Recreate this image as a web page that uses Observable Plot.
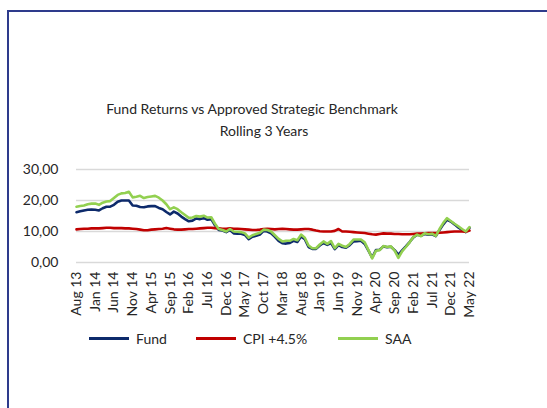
<!DOCTYPE html>
<html>
<head>
<meta charset="utf-8">
<script src="https://cdn.jsdelivr.net/npm/d3@7"></script>
<script src="https://cdn.jsdelivr.net/npm/@observablehq/plot@0.6"></script>
<style>
  html, body { margin: 0; padding: 0; background: #fff; overflow: hidden; }
  #wrap { position: relative; width: 547px; height: 408px; overflow: hidden; font-family: Lato, "Open Sans", sans-serif; color: #404040; }
  #frame { position: absolute; left: 7px; top: 10px; width: 700px; height: 600px; border: 2px solid #2e3b8c; box-sizing: border-box; }
  .t { position: absolute; font-size: 14px; white-space: nowrap; transform: translateX(-50%); color: #262626; }
  #chart { position: absolute; left: 0; top: 0; }
  .leg { position: absolute; top: 330px; font-size: 14px; color: #262626; display: flex; align-items: center; }
  .leg span.sw { display: inline-block; width: 40px; height: 3px; margin-right: 7px; }
</style>
</head>
<body>
<div id="wrap">
  <div id="frame"></div>
  <div id="chart"></div>
  <div class="t" style="left:252px; top:100px;">Fund Returns vs Approved Strategic Benchmark</div>
  <div class="t" style="left:264px; top:122px;">Rolling 3 Years</div>
  <div id="legend"></div>
</div>
<script>
// Tick labels every 5 months, Aug 13 .. May 22 (106 monthly points)
const tickLabels = ["Aug 13","Jan 14","Jun 14","Nov 14","Apr 15","Sep 15","Feb 16","Jul 16","Dec 16","May 17","Oct 17","Mar 18","Aug 18","Jan 19","Jun 19","Nov 19","Apr 20","Sep 20","Feb 21","Jul 21","Dec 21","May 22"];
const seriesNames = ["Fund", "CPI +4.5%", "SAA"];
const seriesColors = ["#0d2a6b", "#c00000", "#92d050"];

const fund = [16.2,16.5,16.8,17.0,17.1,17.0,16.8,17.5,18.0,18.0,
  18.6,19.6,20.0,20.0,20.0,18.4,18.3,17.9,17.8,18.1,
  18.2,18.2,17.6,17.2,16.3,15.5,16.4,15.8,14.8,14.0,
  13.3,13.5,14.2,14.0,14.3,13.8,14.0,12.0,10.5,10.3,
  9.8,10.5,9.4,9.3,9.3,8.9,7.5,8.3,8.6,9.0,
  10.2,10.0,9.4,8.3,7.0,6.2,6.1,6.3,7.0,6.6,
  8.4,7.5,5.0,4.4,4.4,5.5,6.3,5.7,6.3,4.3,
  5.6,5.0,4.8,5.6,6.8,6.9,7.0,6.0,3.8,1.6,
  4.0,4.1,5.2,4.9,5.1,4.0,2.5,3.9,5.2,6.6,
  8.1,9.0,8.6,9.2,9.0,9.1,8.5,10.5,12.3,13.8,
  13.2,12.3,11.3,10.5,9.8,11.2];
const cpi = [10.7,10.8,10.9,10.9,11.0,11.0,11.0,11.1,11.2,11.2,
  11.1,11.1,11.1,11.0,11.0,10.9,10.8,10.6,10.4,10.4,
  10.6,10.7,10.8,10.9,11.1,10.9,10.7,10.6,10.6,10.7,
  10.8,10.8,10.9,11.0,11.1,11.2,11.2,11.1,11.0,10.9,
  10.9,11.0,10.9,10.9,10.8,10.7,10.6,10.5,10.5,10.6,
  10.8,10.9,10.8,10.7,10.8,10.9,10.8,10.7,10.6,10.6,
  10.7,10.8,10.8,10.6,10.3,10.1,10.0,10.0,10.0,10.2,
  10.8,10.0,10.0,9.9,9.8,9.7,9.6,9.5,9.3,9.1,
  9.0,9.2,9.4,9.3,9.3,9.2,9.2,9.1,9.1,9.1,
  9.2,9.3,9.3,9.4,9.5,9.5,9.5,9.6,9.7,9.8,
  9.9,10.0,10.0,10.0,9.9,10.3];
const saa = [18.0,18.2,18.4,18.8,19.0,19.0,18.6,19.3,19.7,19.8,
  20.8,21.8,22.3,22.4,22.8,21.0,21.2,21.5,20.8,21.1,
  21.3,21.5,20.9,20.0,18.8,17.2,17.8,17.2,16.2,15.3,
  14.4,14.5,15.0,14.8,15.1,14.5,14.6,12.5,10.8,10.5,
  10.0,10.8,10.0,9.9,9.8,9.4,8.0,8.8,9.2,9.6,
  10.6,10.5,10.0,8.8,7.6,6.8,7.0,7.0,7.6,7.2,
  9.0,8.0,5.5,4.6,4.6,5.8,6.8,6.0,6.9,4.6,
  6.0,5.4,5.0,6.0,7.4,7.4,7.4,6.5,4.0,1.3,
  3.8,4.0,5.3,5.0,5.2,3.8,1.5,3.6,5.0,6.5,
  8.2,9.0,8.5,9.4,9.1,9.3,8.6,10.8,12.8,14.3,
  13.4,12.5,11.7,10.8,10.0,11.4];
const yTicks = [0, 10, 20, 30];

const rows = [];
[fund, cpi, saa].forEach((arr, s) => arr.forEach((v, i) => rows.push({i, v, s: seriesNames[s]})));
const tickIdx = tickLabels.map((_, k) => k * 5);

const chart = Plot.plot({
  width: 547,
  height: 408,
  marginTop: 169,
  marginBottom: 146,
  marginLeft: 76,
  marginRight: 78,
  style: {fontFamily: "Lato, 'Open Sans', sans-serif", fontSize: "13px", color: "#262626", background: "transparent"},
  x: {domain: [0, 105]},
  y: {domain: [0, 30]},
  color: {domain: seriesNames, range: seriesColors},
  marks: [
    Plot.gridY(yTicks, {stroke: "#d9d9d9", strokeOpacity: 1, strokeWidth: 1.5}),
    Plot.axisY(yTicks, {tickSize: 0, tickPadding: 18, tickFormat: d => d3.format(".2f")(d).replace(".", ","), label: null, fontSize: 14}),
    Plot.axisX(tickIdx, {tickSize: 0, tickPadding: 9, tickRotate: -90, tickFormat: d => tickLabels[d / 5], label: null, fontSize: 14}),
    Plot.line(rows, {x: "i", y: "v", z: "s", stroke: "s", strokeWidth: 2.6, strokeLinejoin: "round"})
  ]
});
document.getElementById("chart").appendChild(chart);

const legend = document.getElementById("legend");
const legendX = [89, 196, 338];
seriesNames.forEach((n, k) => {
  const d = document.createElement("div");
  d.className = "leg";
  d.style.left = legendX[k] + "px";
  d.innerHTML = `<span class="sw" style="background:${seriesColors[k]}"></span>${n}`;
  legend.appendChild(d);
});
</script>
</body>
</html>
